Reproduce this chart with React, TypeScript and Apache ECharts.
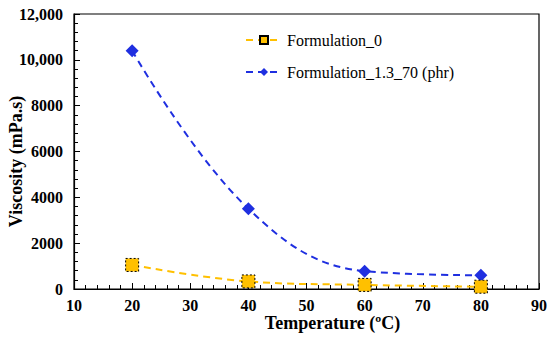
import React, { useEffect, useRef } from "react";
import * as echarts from "echarts";

const temperatures = [20, 40, 60, 80];
const formulation0 = [1050, 330, 180, 100];
const formulation13 = [10400, 3500, 780, 600];
const seriesNames = ["Formulation_0", "Formulation_1.3_70 (phr)"];

const FONT = "Liberation Serif";

export default function App() {
  const ref = useRef<HTMLDivElement>(null);
  useEffect(() => {
    if (!ref.current) return;
    const chart = echarts.init(ref.current, undefined, { renderer: "svg" });
    chart.setOption({
      animation: false,
      backgroundColor: "#ffffff",
      textStyle: { fontFamily: FONT },
      grid: {
        left: 74,
        right: 11,
        top: 14,
        bottom: 54,
        show: true,
        borderColor: "#000",
        borderWidth: 1.2,
        outerBoundsMode: "none",
        containLabel: false,
      },
      legend: {
        left: 240,
        top: 27,
        orient: "vertical",
        itemWidth: 36,
        itemHeight: 10,
        itemGap: 16,
        textStyle: { fontFamily: FONT, fontSize: 16, color: "#000" },
        data: seriesNames,
      },
      xAxis: {
        type: "value",
        min: 10,
        max: 90,
        interval: 10,
        axisLine: { lineStyle: { color: "#000", width: 1.2 } },
        axisTick: { inside: true, length: 6, lineStyle: { color: "#000" } },
        minorTick: { show: true, splitNumber: 5, length: 4, lineStyle: { color: "#000" } },
        splitLine: { show: false },
        axisLabel: { fontFamily: FONT, fontSize: 16, fontWeight: "bold", color: "#000", margin: 8 },
        name: "Temperature (ºC)",
        nameLocation: "middle",
        nameGap: 25,
        nameMoveOverlap: false,
        nameTextStyle: {
          fontFamily: FONT,
          fontSize: 18,
          fontWeight: "bold",
          color: "#000",
          padding: [0, 0, 0, 52],
        },
      },
      yAxis: {
        type: "value",
        min: 0,
        max: 12000,
        interval: 2000,
        axisLine: { show: true, lineStyle: { color: "#000", width: 1.2 } },
        axisTick: { show: true, inside: true, length: 6, lineStyle: { color: "#000" } },
        minorTick: { show: true, splitNumber: 5, length: 4, lineStyle: { color: "#000" } },
        splitLine: { show: false },
        axisLabel: {
          fontFamily: FONT,
          fontSize: 16,
          fontWeight: "bold",
          color: "#000",
          margin: 11,
          formatter: (v: number) => (v >= 10000 ? v.toLocaleString("en-US") : String(v)),
        },
        name: "Viscosity (mPa.s)",
        nameLocation: "middle",
        nameGap: 49,
        nameMoveOverlap: false,
        nameTextStyle: {
          fontFamily: FONT,
          fontSize: 18,
          fontWeight: "bold",
          color: "#000",
          padding: [0, 20, 0, 0],
        },
      },
      series: [
        {
          name: seriesNames[0],
          type: "line",
          smooth: 0.4,
          data: temperatures.map((t, i) => [t, formulation0[i]]),
          symbol: "rect",
          symbolSize: 13,
          lineStyle: { color: "#FFC000", width: 2, type: [7, 5] },
          itemStyle: { color: "#FFC000", borderColor: "#000", borderWidth: 1, borderType: [2, 2] },
          z: 3,
        },
        {
          name: seriesNames[1],
          type: "line",
          smooth: 0.4,
          data: temperatures.map((t, i) => [t, formulation13[i]]),
          symbol: "diamond",
          symbolSize: 13,
          lineStyle: { color: "#1F2FE0", width: 2, type: [7, 5] },
          itemStyle: { color: "#1F2FE0" },
          z: 2,
        },
      ],
    });
    return () => chart.dispose();
  }, []);
  return (
    <div
      ref={ref}
      style={{ position: "fixed", left: 0, top: 0, width: 550, height: 343 }}
    />
  );
}
